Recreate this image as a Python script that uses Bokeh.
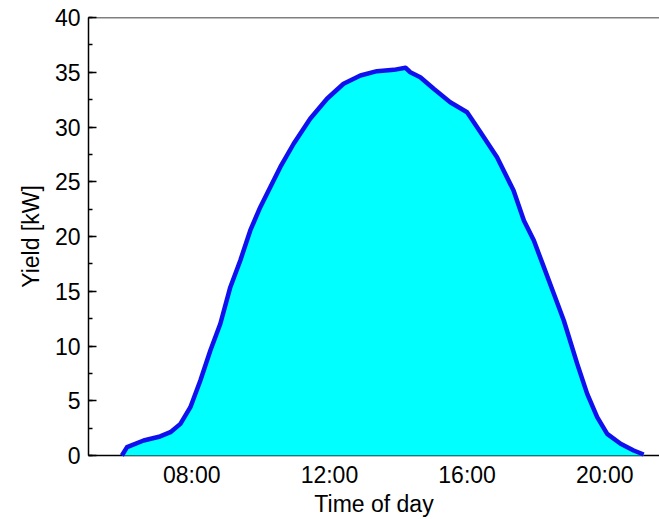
from bokeh.plotting import figure
from bokeh.models import Range1d, FixedTicker, SingleIntervalTicker, Span, ColumnDataSource
from bokeh.embed import file_html
from bokeh.resources import INLINE

# Time of day in hours, yield in kW
hours = [5.97, 6.12, 6.60, 7.08, 7.38, 7.67, 7.96, 8.25, 8.54, 8.83, 9.12, 9.41,
         9.70, 9.99, 10.28, 10.57, 10.96, 11.44, 11.93, 12.41, 12.90, 13.38,
         13.87, 14.21, 14.35, 14.64, 15.03, 15.51, 16.00, 16.39, 16.87, 17.35,
         17.65, 17.94, 18.23, 18.52, 18.81, 19.05, 19.20, 19.49, 19.78, 20.07,
         20.46, 20.84, 21.13]
yield_kw = [0.0, 0.76, 1.37, 1.74, 2.13, 2.89, 4.41, 6.85, 9.59, 12.03, 15.37, 17.81,
            20.55, 22.68, 24.50, 26.33, 28.47, 30.75, 32.58, 33.95, 34.70, 35.10,
            35.22, 35.41, 35.00, 34.55, 33.49, 32.26, 31.35, 29.53, 27.24, 24.20,
            21.46, 19.63, 17.20, 14.77, 12.33, 9.89, 8.37, 5.63, 3.50, 1.98,
            1.07, 0.46, 0.09]
base = [0.0] * len(hours)

tick_hours = [8, 12, 16, 20]
tick_labels = ["08:00", "12:00", "16:00", "20:00"]

x_min, x_max = 5.0, 21.59
y_min, y_max = 0, 40

FONT = "Liberation Sans"
FS = "23px"

src = ColumnDataSource(dict(x=hours, y=yield_kw, b=base))

p = figure(width=659, height=519, output_backend="svg", toolbar_location=None,
           x_range=Range1d(x_min, x_max), y_range=Range1d(y_min, y_max),
           min_border_left=88, min_border_right=0, min_border_top=17,
           min_border_bottom=64)
p.outline_line_color = None
p.grid.visible = False
p.background_fill_color = "white"
p.border_fill_color = "white"

r1 = p.varea(x="x", y1="b", y2="y", source=src, fill_color="#00ffff")
r2 = p.line(x="x", y="y", source=src, line_color="#1010ee", line_width=4.5,
            line_join="round")
r1.level = "overlay"
r2.level = "overlay"

p.add_layout(Span(location=y_max, dimension="width", line_color="black",
                  line_width=1.5))

xa = p.xaxis[0]
xa.ticker = FixedTicker(ticks=tick_hours)
xa.major_label_overrides = {h: l for h, l in zip(tick_hours, tick_labels)}
xa.axis_label = "Time of day"
xa.major_tick_in = 8
xa.major_tick_out = 0
xa.minor_tick_line_color = None
xa.major_label_standoff = 6
xa.axis_label_standoff = 0

ya = p.yaxis[0]
ya.ticker = SingleIntervalTicker(interval=5, num_minor_ticks=2)
ya.axis_label = "Yield [kW]"
ya.major_tick_in = 8
ya.major_tick_out = 0
ya.minor_tick_in = 4
ya.minor_tick_out = 0
ya.major_label_standoff = 8
ya.axis_label_standoff = 8

for ax in (xa, ya):
    ax.axis_line_color = "black"
    ax.axis_line_width = 1.5
    ax.major_tick_line_color = "black"
    ax.major_tick_line_width = 1.5
    ax.minor_tick_line_width = 1.5
    ax.major_label_text_font = FONT
    ax.major_label_text_font_size = FS
    ax.major_label_text_color = "black"
    ax.axis_label_text_font = FONT
    ax.axis_label_text_font_size = FS
    ax.axis_label_text_font_style = "normal"
    ax.axis_label_text_color = "black"

open("out.html", "w").write(file_html(p, INLINE))
